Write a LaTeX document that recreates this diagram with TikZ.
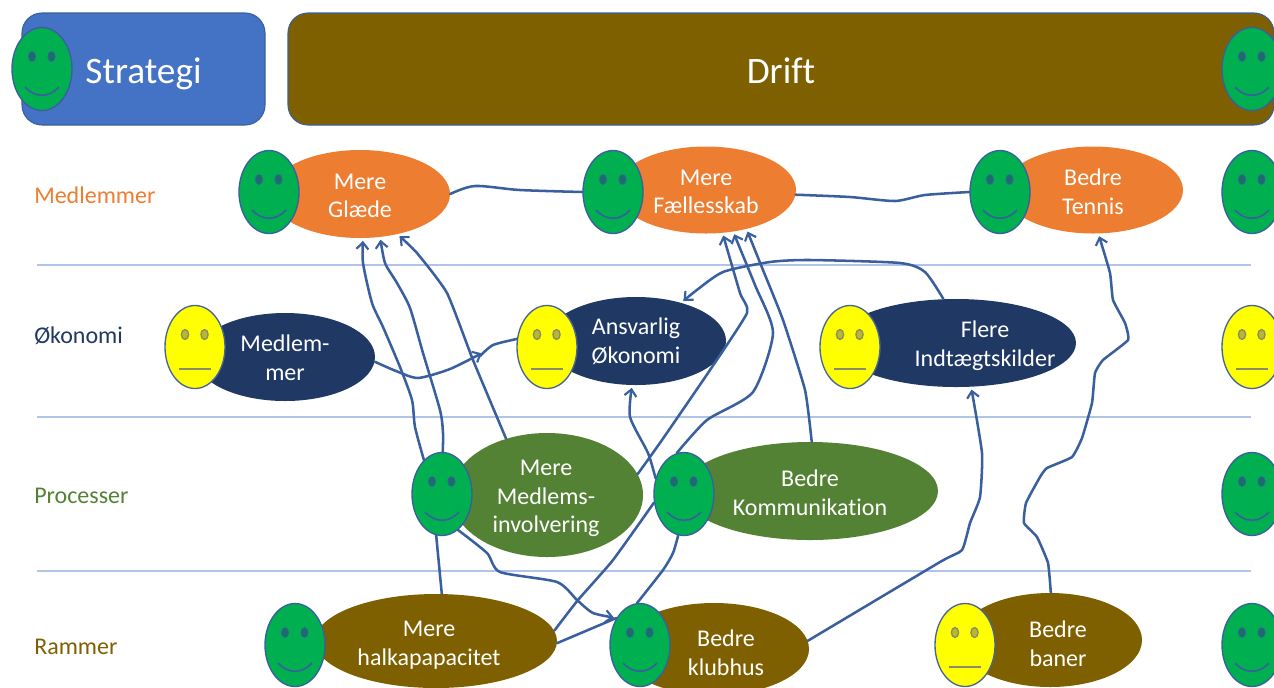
\documentclass[tikz,border=0pt]{standalone}
\usepackage{fontspec}
\setmainfont[Ligatures=NoCommon]{Carlito}
\usetikzlibrary{shapes.geometric,arrows.meta}
\definecolor{cline}{HTML}{3A5F9E}
\definecolor{csep}{HTML}{B0C4E8}
\definecolor{cblue}{HTML}{4472C4}
\definecolor{corange}{HTML}{ED7D31}
\definecolor{cnavy}{HTML}{1F3864}
\definecolor{cgreen}{HTML}{548235}
\definecolor{colive}{HTML}{7F6000}
\definecolor{cfaceg}{HTML}{00B050}
\definecolor{cfacey}{HTML}{FFFF00}
\definecolor{ceyeg}{HTML}{1A6E6A}
\definecolor{ceyey}{HTML}{B8B830}
\definecolor{cedgey}{HTML}{8A8C68}
\tikzset{
  blob/.style n args={3}{ellipse,fill=#3,draw=none,inner sep=0pt,
    minimum width=#1*0.75pt,minimum height=#2*0.75pt},
  lbl/.style={text=white,align=center,inner sep=0pt,font=\fontsize{18}{21.5}\selectfont},
  rowlbl/.style={anchor=west,inner sep=0pt,font=\fontsize{18}{21}\selectfont},
  banner/.style n args={3}{rectangle,rounded corners=15pt,fill=#3,draw=cline,line width=0.8pt,
    minimum width=#1*0.75pt,minimum height=#2*0.75pt,text=white,inner sep=0pt,
    text height=22pt,text depth=0.8pt,font=\fontsize{28}{32}\selectfont},
  facebase/.style={ellipse,draw=cline,line width=1pt,inner sep=0pt,
    minimum width=60*0.75pt,minimum height=83*0.75pt},
  sep/.style={draw=csep,line width=0.9pt},
  link/.style={draw=cline,line width=1.9pt,line join=round,line cap=round},
  linkto/.style={link,-{Straight Barb[length=5pt,width=9pt,line width=1.6pt]},shorten >=2pt},
}
\newcommand{\happyface}[3]{%
  \node[facebase,fill=cfaceg] (#1) at (#2,#3) {};
  \begin{scope}[shift={(#2,#3)}]
    \foreach \ex in {-10,9.5} \draw[draw=cline,line width=0.6pt,fill=ceyeg] (\ex,-12.5) ellipse [x radius=2.7pt,y radius=3.7pt];
    \draw[cline,line width=1.2pt] (-17,18) .. controls (-7,29) and (7,29) .. (17,18);
  \end{scope}}
\newcommand{\neutralface}[3]{%
  \node[facebase,fill=cfacey,draw=cline!80!gray] (#1) at (#2,#3) {};
  \begin{scope}[shift={(#2,#3)}]
    \foreach \ex in {-10,9.5} \draw[draw=cedgey,line width=1pt,fill=ceyey] (\ex,-12.5) ellipse [x radius=2.7pt,y radius=3.7pt];
    \draw[cedgey,line width=1.5pt] (-16,22) -- (16,22);
  \end{scope}}
\begin{document}
\begin{tikzpicture}[x=0.75pt,y=-0.75pt]
\useasboundingbox (0,0) rectangle (1274,687);
\clip (0,0) rectangle (1274,687);
% banners
\node[banner={243}{112}{cblue}] (strategi) at (143.5,69) {Strategi};
\node[banner={986}{112}{colive}] (drift) at (781,69) {Drift};
% separators
\coordinate (s1a) at (37,265); \coordinate (s1b) at (1251,265);
\coordinate (s2a) at (37,417); \coordinate (s2b) at (1251,417);
\coordinate (s3a) at (37,571); \coordinate (s3b) at (1251,571);
\draw[sep] (s1a) -- (s1b);
\draw[sep] (s2a) -- (s2b);
\draw[sep] (s3a) -- (s3b);
% row labels
\node[rowlbl,text=corange] (r1) at (34,195) {Medlemmer};
\node[rowlbl,text=cnavy] (r2) at (34,336) {Økonomi};
\node[rowlbl,text=cgreen] (r3) at (34,496) {Processer};
\node[rowlbl,text=colive] (r4) at (34,647) {Rammer};
% ellipses and their texts
\node[blob={180}{88}{corange}] (glaede) at (360,194) {};
\node[lbl] (glaedetxt) at (360,196) {Mere\\Glæde};
\node[blob={180}{87}{corange}] (faelles) at (706,190) {};
\node[lbl] (faellestxt) at (706,192) {Mere\\Fællesskab};
\node[blob={180}{87}{corange}] (tennis) at (1093,190) {};
\node[lbl] (tennistxt) at (1093,192) {Bedre\\Tennis};
\node[blob={180}{88}{cnavy}] (medl) at (285,357) {};
\node[lbl] (medltxt) at (285,357.5) {Medlem-\\mer};
\node[blob={180}{88}{cnavy}] (ansv) at (636,341) {};
\node[lbl] (ansvtxt) at (636,341.5) {Ansvarlig\\Økonomi};
\node[blob={240}{88}{cnavy}] (flere) at (956,343) {};
\node[lbl] (fleretxt) at (985,346) {Flere\\Indtægtskilder};
\node[blob={192}{124}{cgreen}] (medlems) at (547,495) {};
\node[lbl] (medlemstxt) at (546,498.5) {Mere\\Medlems-\\involvering};
\node[blob={256}{98}{cgreen}] (komm) at (810,491) {};
\node[lbl] (kommtxt) at (810,493) {Bedre\\Kommunikation};
\node[blob={242}{94}{colive}] (halka) at (436,641) {};
\node[lbl] (halkatxt) at (429,645.5) {Mere\\halkapapacitet};
\node[blob={190}{92}{colive}] (klub) at (714,649) {};
\node[lbl] (klubtxt) at (726,652.5) {Bedre\\klubhus};
\node[blob={184}{94}{colive}] (baner) at (1050,640) {};
\node[lbl] (banertxt) at (1058,643.5) {Bedre\\baner};
% faces
\happyface{fstrategi}{42}{69}
\happyface{fdrift}{1252}{69}
\happyface{fglaede}{269}{192}
\happyface{ffaelles}{613}{192}
\happyface{ftennis}{1000}{192}
\happyface{fr1}{1252}{192}
\neutralface{fmedl}{195}{347}
\neutralface{fansv}{547}{347}
\neutralface{fflere}{850}{347}
\neutralface{fr2}{1252}{347}
\happyface{fmedlems}{442}{494}
\happyface{fkomm}{684}{494}
\happyface{fr3}{1252}{494}
\happyface{fhalka}{295}{645}
\happyface{fklub}{640}{645}
\neutralface{fbaner}{965}{645}
\happyface{fr4}{1252}{645}
% connectors
\draw[link] plot[smooth,tension=0.5] coordinates {(glaede.0) (475,186) (520,190) (ffaelles.180)};
\draw[link] plot[smooth,tension=0.4] coordinates {(faelles.-3) (850,197) (895,201) (925,195) (ftennis.180)};
\draw[linkto] plot[smooth,tension=0.4] coordinates {(fmedlems.118) (415,427) (412,400) (400,367) (383,327) (372,303) (363,263) (glaede.-86)};
\draw[linkto] plot[smooth,tension=0.4] coordinates {(fmedlems.89) (443,433) (440,410) (423,353) (410,308) (397,283) (385,263) (glaede.-65)};
\draw[linkto] plot[smooth,tension=0.3] coordinates {(medlems.126) (473,360) (447,293) (417,253) (glaede.-47)};
\draw[linkto] plot[smooth,tension=0.4] coordinates {(medl.-3) (396,371) (418,378) (450,369) (484,352)};
\draw[link] plot[smooth,tension=0.4] coordinates {(480,356) (493,345) (fansv.165)};
\draw[linkto] plot[smooth,tension=0.4] coordinates {(flere.106) (925,272) (900,263) (810,260) (770,262) (723,272) (693,293) (ansv.40)};
\draw[linkto] plot[smooth,tension=0.3] coordinates {(medlems.13) (662,440) (710,370) (747,313) (740,293) (faelles.-69)};
\draw[link] plot[smooth,tension=0.3] coordinates {(halka.5) (578,600) (613,560) (fkomm.196)};
\draw[linkto] plot[smooth,tension=0.4] coordinates {(fkomm.100) (707,420) (753,392) (773,333) (755,285) (faelles.-57)};
\draw[linkto] plot[smooth,tension=0.3] coordinates {(komm.88) (805,390) (783,320) (763,270) (faelles.-44)};
\draw[linkto] plot[smooth,tension=0.4] coordinates {(fkomm.151) (648,453) (630,417) (ansv.-95)};
\draw[linkto] plot[smooth,tension=0.4] coordinates {(fmedlems.-66) (487,553) (500,572) (557,582) (577,600) (593,613) (fklub.131)};
\draw[link] (halka.-1) -- (fklub.131);
\draw[link] (fmedlems.-98) -- (halka.83);
\draw[link] plot[smooth,tension=0.4] coordinates {(fkomm.-98) (673,553) (663,570) (fklub.94)};
\draw[linkto] plot[smooth,tension=0.3] coordinates {(klub.5) (940,562) (962,550) (970,523) (980,497) (982,453) (flere.-71)};
\draw[linkto] plot[smooth,tension=0.25] coordinates {(baner.89) (1048,563) (1037,537) (1024,523) (1026,503) (1040,477) (1047,468) (1072,457) (1082,438) (1092,403) (1095,373) (1103,360) (1128,340) (1125,323) (1113,300) (1110,273) (tennis.-83)};
\end{tikzpicture}
\end{document}
